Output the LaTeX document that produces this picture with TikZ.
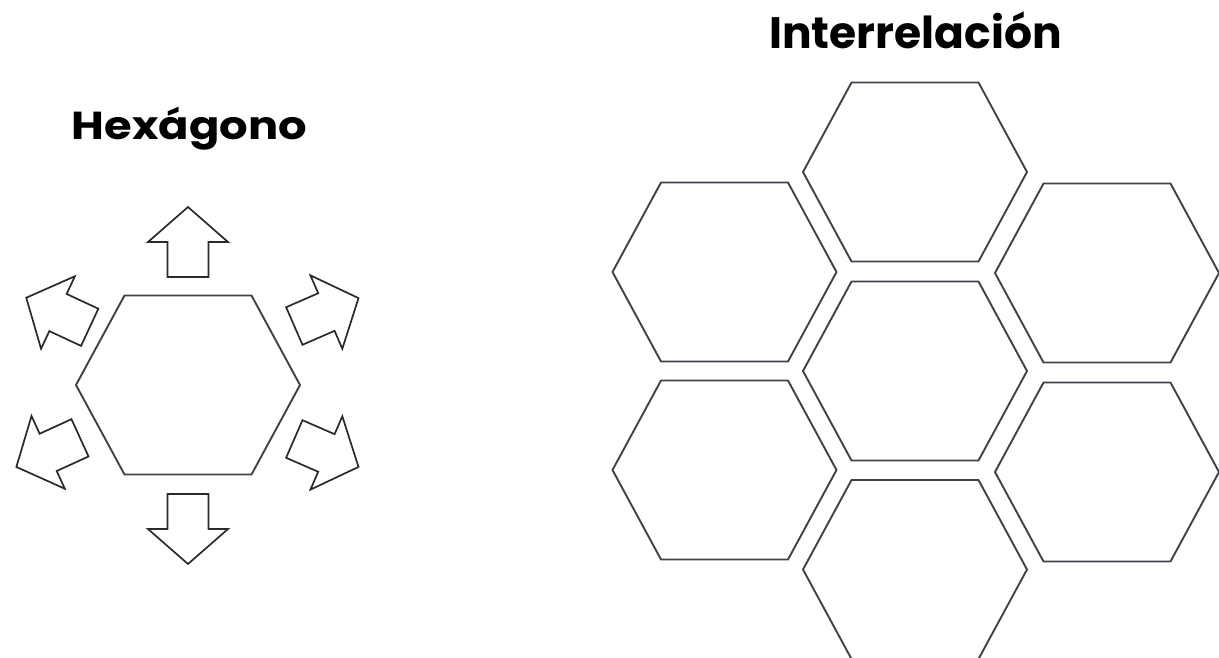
\documentclass[tikz,border=0pt]{standalone}
\usepackage{fontspec}
\newfontfamily\titlefont{Poppins}
\definecolor{hexgray}{HTML}{3E434B}
\definecolor{arrowgray}{HTML}{2A2A2A}
\tikzset{
  x=1pt, y=-1pt,
  hexline/.style={draw=hexgray, line width=1.9pt, line join=round, fill=white},
  arrline/.style={draw=arrowgray, line width=1.7pt, line join=miter, fill=white},
  title/.style={text=black, anchor=base, inner sep=0pt},
  hexa/.pic={\draw[hexline] (-112,0) -- (-63.5,-89.5) -- (63.5,-89.5) -- (112,0) -- (63.5,89.5) -- (-63.5,89.5) -- cycle;},
  blockarrow/.pic={\draw[arrline] (0,-20.5) -- (35,-20.5) -- (35,-40) -- (70,0) -- (35,40) -- (35,20.5) -- (0,20.5) -- cycle;}
}
\begin{document}
\begin{tikzpicture}
\fill[white] (0,0) rectangle (1219,657);
\useasboundingbox (0,0) rectangle (1219,657);
% titles
\node[title, xscale=1.15, font=\titlefont\bfseries\fontsize{39}{46}\selectfont] (t1) at (189.5,139.3) {Hexágono};
\node[title, font=\titlefont\bfseries\fontsize{44}{50}\selectfont] (t2) at (915.5,48.3) {Interrelación};
% left hexagon with arrows
\coordinate (hc) at (188,385);
\pic at (hc) {hexa};
\path (188,277) pic[rotate=90] {blockarrow};
\path (188,494) pic[rotate=-90] {blockarrow};
\path (294.3,326) pic[rotate=23.5] {blockarrow};
\path (89.7,327.3) pic[rotate=155] {blockarrow};
\path (80,437.8) pic[rotate=-155.4] {blockarrow};
\path (294.3,439) pic[rotate=-23.5] {blockarrow};
% honeycomb
\coordinate (h1) at (915,172);
\coordinate (h2) at (724.5,272);
\coordinate (h3) at (1107,273);
\coordinate (h4) at (915,371);
\coordinate (h5) at (724.5,470);
\coordinate (h6) at (1107,472);
\coordinate (h7) at (915,569.5);
\foreach \h in {h1,h2,h3,h4,h5,h6,h7} {\pic at (\h) {hexa};}
\end{tikzpicture}
\end{document}
